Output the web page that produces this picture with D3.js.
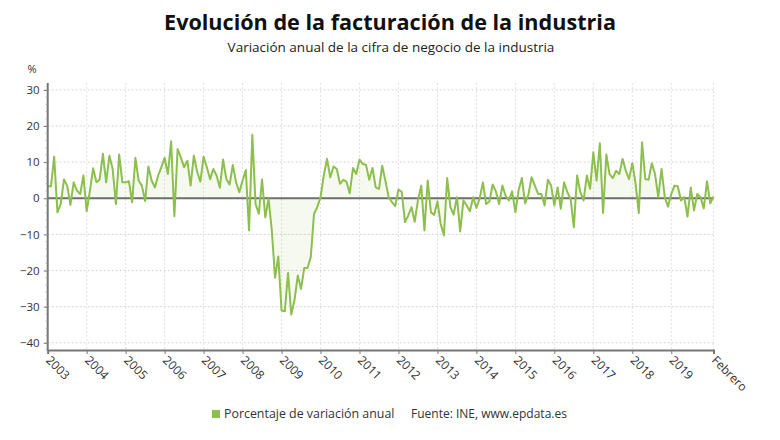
<!DOCTYPE html>
<html>
<head>
<meta charset="utf-8">
<script src="https://cdn.jsdelivr.net/npm/d3@7"></script>
<style>
html,body{margin:0;padding:0;background:#fff;}
svg{display:block;font-family:"Open Sans",sans-serif;}
</style>
</head>
<body>
<svg id="chart" width="780" height="440"></svg>
<script>
const title = "Evolución de la facturación de la industria";
const subtitle = "Variación anual de la cifra de negocio de la industria";
const seriesName = "Porcentaje de variación anual";
const source = "Fuente: INE, www.epdata.es";
const yUnit = "%";
const yearLabels = ["2003","2004","2005","2006","2007","2008","2009","2010","2011","2012","2013","2014","2015","2016","2017","2018","2019"];
const lastLabel = "Febrero";
const yTicks = [30,20,10,0,-10,-20,-30,-40];
// monthly values, Jan 2003 .. Feb 2020
const values2003_2006 = [
  3.3, 3.3, 11.5, -3.9, -1.6, 5.2, 3.5, -1.8, 4.4, 2.1, 1.2, 6.3,
  -3.6, 2.1, 8.3, 4.4, 5.2, 12.3, 4.4, 11.8, 8.1, -1.6, 12.1, 4.4,
  4.4, 4.7, -1.1, 11.2, 4.9, 3.5, -0.8, 8.8, 4.9, 3.0, 6.3, 8.6,
  11.2, 6.7, 15.8, -5.0, 13.6, 11.3, 8.6, 10.4, 3.5, 11.8, 7.4, 4.6
];
const values2007_2010 = [
  11.5, 8.6, 5.3, 8.1, 6.3, 2.9, 10.7, 5.3, 3.8, 9.2, 4.4, 1.7,
  4.9, 7.8, -8.9, 17.6, -1.6, -4.3, 5.2, -5.3, -0.2, -8.9, -22.0, -16.1,
  -31.1, -31.3, -20.7, -32.2, -28.1, -21.4, -25.1, -19.3, -19.3, -16.3, -4.3, -2.5,
  0.3, 6.3, 10.9, 5.8, 8.8, 8.1, 4.0, 5.1, 4.6, 1.4, 8.4, 6.7
];
const values2011_2014 = [
  10.7, 9.5, 9.3, 5.1, 8.4, 3.0, 2.6, 9.0, 4.7, 0.3, -1.1, -2.2,
  2.4, 1.8, -6.6, -4.8, -2.5, -6.5, -0.6, 3.5, -8.9, 4.9, -3.9, -4.6,
  -0.9, -7.1, -10.3, 5.6, -2.5, -4.5, 0.3, -9.2, -0.6, -2.0, -3.6, 0.3,
  -2.7, 0.0, 4.4, -1.6, -0.9, 3.8, 1.9, -1.6, 3.5, 0.7, -0.6, 1.9
];
const values2015_2020 = [
  -3.9, 2.3, 5.6, -1.4, 1.0, 5.8, 3.5, 1.2, 1.2, -2.0, 5.1, 3.5,
  -2.0, 3.0, -2.9, 4.4, 1.7, -0.2, -8.0, 6.3, 1.7, -0.6, 6.3, 2.6,
  12.7, 4.9, 15.2, -4.1, 12.1, 6.7, 5.6, 7.6, 6.7, 10.9, 7.6, 5.3,
  9.7, 4.1, -4.1, 15.5, 5.3, 5.1, 9.7, 6.7, 0.3, 8.1, 0.3, -2.3,
  1.2, 3.5, 3.3, -0.6, 0.3, -5.1, 3.0, -3.4, 1.2, 0.3, -2.8, 4.7,
  -1.4, 0.5
];
const values = [].concat(values2003_2006, values2007_2010, values2011_2014, values2015_2020);

const lineColor = "#8cbf4e";
const svg = d3.select("#chart");
const pLeft = 47.7, pRight = 713.5, pTop = 83, pBottom = 350;

const x = d3.scaleLinear().domain([0, values.length - 1]).range([pLeft, pRight]);
const y = d3.scaleLinear().domain([-42, 31.9]).range([pBottom, pTop]);

// titles
svg.append("text").attr("x", 390).attr("y", 30).attr("text-anchor", "middle")
  .attr("font-size", 21.6).attr("font-weight", 700).attr("fill", "#111").text(title);
svg.append("text").attr("x", 391).attr("y", 52).attr("text-anchor", "middle")
  .attr("font-size", 13.5).attr("fill", "#222").text(subtitle);

// grid
const yearIdx = yearLabels.map((d, i) => i * 12);
const xTickIdx = yearIdx.concat([values.length - 1]);
const grid = svg.append("g");
grid.selectAll("line.h").data(yTicks).join("line")
  .attr("x1", pLeft).attr("x2", pRight).attr("y1", d => y(d)).attr("y2", d => y(d))
  .attr("stroke", "#d4d4d4").attr("stroke-width", 1).attr("stroke-dasharray", "2,2");
grid.selectAll("line.v").data(xTickIdx).join("line")
  .attr("x1", d => x(d)).attr("x2", d => x(d)).attr("y1", pTop).attr("y2", pBottom)
  .attr("stroke", "#e2e2e2").attr("stroke-width", 1).attr("stroke-dasharray", "2,2");

// area
const area = d3.area().x((d, i) => x(i)).y0(y(0)).y1(d => y(d));
svg.append("path").datum(values).attr("d", area).attr("fill", lineColor).attr("fill-opacity", 0.09);

// zero line
svg.append("line").attr("x1", pLeft).attr("x2", pRight).attr("y1", y(0)).attr("y2", y(0))
  .attr("stroke", "#6e6e6e").attr("stroke-width", 1.8);

// line
const line = d3.line().x((d, i) => x(i)).y(d => y(d));
svg.append("path").datum(values).attr("d", line).attr("fill", "none")
  .attr("stroke", lineColor).attr("stroke-width", 2).attr("stroke-linejoin", "round");

// y axis
const yAxis = d3.axisLeft(y).tickValues(yTicks).tickSize(4).tickPadding(4).tickFormat(d3.format("d"));
const gy = svg.append("g").attr("transform", `translate(${pLeft},0)`).call(yAxis);
gy.select(".domain").remove();
gy.selectAll(".tick line").attr("stroke", "#777");
gy.selectAll(".tick text").attr("font-family", "Open Sans").attr("font-size", 11.5).attr("fill", "#333");
svg.append("line").attr("x1", pLeft).attr("x2", pLeft).attr("y1", pTop).attr("y2", pBottom)
  .attr("stroke", "#777").attr("stroke-width", 2);
// minor ruler ticks
const minor = d3.range(-42, 32, 2);
svg.append("g").selectAll("line").data(minor).join("line")
  .attr("x1", pLeft - 2).attr("x2", pLeft).attr("y1", d => y(d)).attr("y2", d => y(d))
  .attr("stroke", "#999").attr("stroke-width", 0.8);
svg.append("text").attr("x", 32).attr("y", 73).attr("text-anchor", "middle")
  .attr("font-size", 11).attr("fill", "#333").text(yUnit);

// x axis
const allLabels = yearLabels.concat([lastLabel]);
const xAxis = d3.axisBottom(x).tickValues(xTickIdx).tickSize(4)
  .tickFormat((d, i) => allLabels[i]);
const gx = svg.append("g").attr("transform", `translate(0,${pBottom})`).call(xAxis);
gx.select(".domain").attr("stroke", "#777").attr("stroke-width", 2);
gx.selectAll(".tick line").attr("stroke", "#777");
gx.selectAll(".tick text").attr("font-family", "Open Sans").attr("font-size", 12).attr("fill", "#333")
  .attr("text-anchor", "start").attr("dy", 0).attr("y", 0)
  .attr("transform", "translate(-3,11) rotate(45)");

// legend
svg.append("rect").attr("x", 212).attr("y", 410).attr("width", 8).attr("height", 8).attr("fill", lineColor);
svg.append("text").attr("x", 224).attr("y", 418).attr("font-size", 12.4).attr("fill", "#333").text(seriesName);
svg.append("text").attr("x", 411).attr("y", 418).attr("font-size", 12).attr("fill", "#333").text(source);
</script>
</body>
</html>
